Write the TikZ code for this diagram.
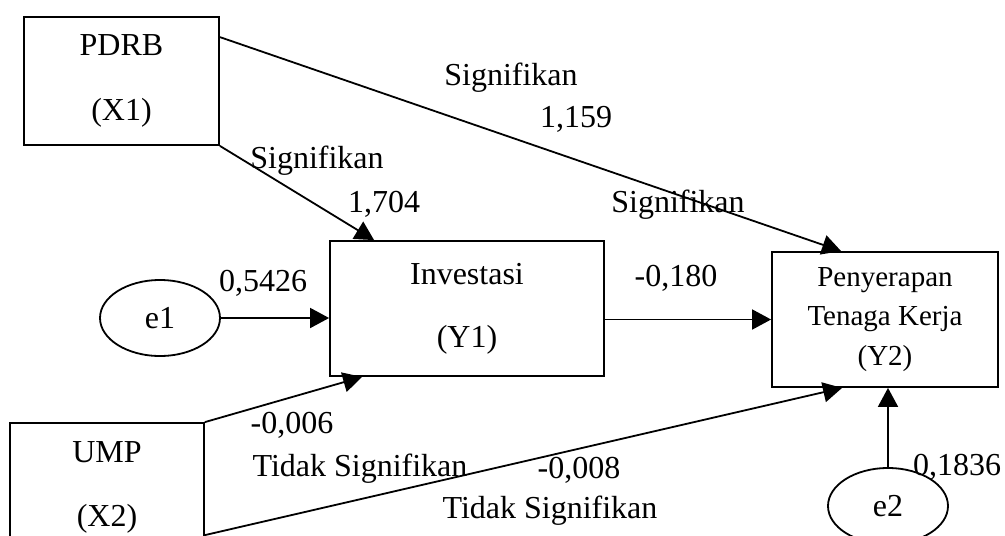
\documentclass[tikz,border=0pt]{standalone}
\usepackage{fontspec}
\setmainfont{Liberation Serif}
\usepackage{tikz}
\usetikzlibrary{arrows.meta}
\usetikzlibrary{calc}
\usetikzlibrary{shapes.geometric}

\begin{document}
\begin{tikzpicture}[
	x=1pt, y=-1pt,
	font=\fontsize{32}{38}\selectfont,
	box/.style={draw, line width=1.8pt, align=center, inner sep=0pt},
	err/.style={
		draw, ellipse, line width=1.8pt,
		minimum width=120pt, minimum height=76pt, inner sep=0pt
	},
	lbl/.style={anchor=base, inner sep=0pt},
	link/.style={line width=1.8pt, -{Triangle[length=19pt, width=20pt]}}
]
	\useasboundingbox (0,0) rectangle (1005,536);
	\clip (0,0) rectangle (1005,536);

	% variables
	\node[box, minimum width=195pt, minimum height=128pt] (pdrb)
		at (121.5,81) {PDRB\\[27pt](X1)};
	\node[box, minimum width=194pt, minimum height=128pt] (ump)
		at (107,487) {UMP\\[26pt](X2)};
	\node[box, minimum width=274pt, minimum height=135pt] (inv)
		at (467,308.5) {Investasi\\[25pt](Y1)};
	\node[
		box,
		minimum width=226pt,
		minimum height=135pt,
		font=\fontsize{29}{39.5}\selectfont
	] (pen)
		at (885,319.5) {Penyerapan\\Tenaga Kerja\\(Y2)};

	% errors
	\node[err] (e1) at (160,318) {e1};
	\node[err] (e2) at (888,506) {e2};

	% end points on the boxes
	\coordinate (pdrb-out) at ($(pdrb.north east)+(0,21)$);
	\coordinate (ump-out) at ($(ump.north east)+(0,113)$);
	\coordinate (inv-top) at ($(inv.north west)+(45,0)$);
	\coordinate (inv-bot) at ($(inv.south west)+(33,0)$);
	\coordinate (pen-top) at ($(pen.north west)+(70,0)$);
	\coordinate (pen-bot) at ($(pen.south west)+(71,0)$);

	% paths
	\draw[link] (pdrb-out) -- (pen-top);
	\draw[link] (pdrb.south east) -- (inv-top);
	\draw[link] (e1.east) -- (e1.east -| inv.west);
	\draw[link] (pen.west -| inv.east) -- (pen.west);
	\draw[link] (ump.north east) -- (inv-bot);
	\draw[link] (ump-out) -- (pen-bot);
	\draw[link] (e2.north) -- (e2.north |- pen.south);

	% coefficients
	\node[lbl] (sig-a) at (511,85) {Signifikan};
	\node[lbl] (val-a) at (576,127) {1,159};
	\node[lbl] (sig-b) at (317,168) {Signifikan};
	\node[lbl] (val-b) at (384,212) {1,704};
	\node[lbl] (sig-c) at (678,212) {Signifikan};
	\node[lbl] (val-e1) at (263,291) {0,5426};
	\node[lbl] (val-c) at (676,286) {-0,180};
	\node[lbl] (val-d) at (292,433) {-0,006};
	\node[lbl] (ns-d) at (360,476) {Tidak Signifikan};
	\node[lbl] (val-f) at (579,478) {-0,008};
	\node[lbl] (ns-f) at (550,518) {Tidak Signifikan};
	\node[lbl] (val-e2) at (957,475) {0,1836};
\end{tikzpicture}
\end{document}
